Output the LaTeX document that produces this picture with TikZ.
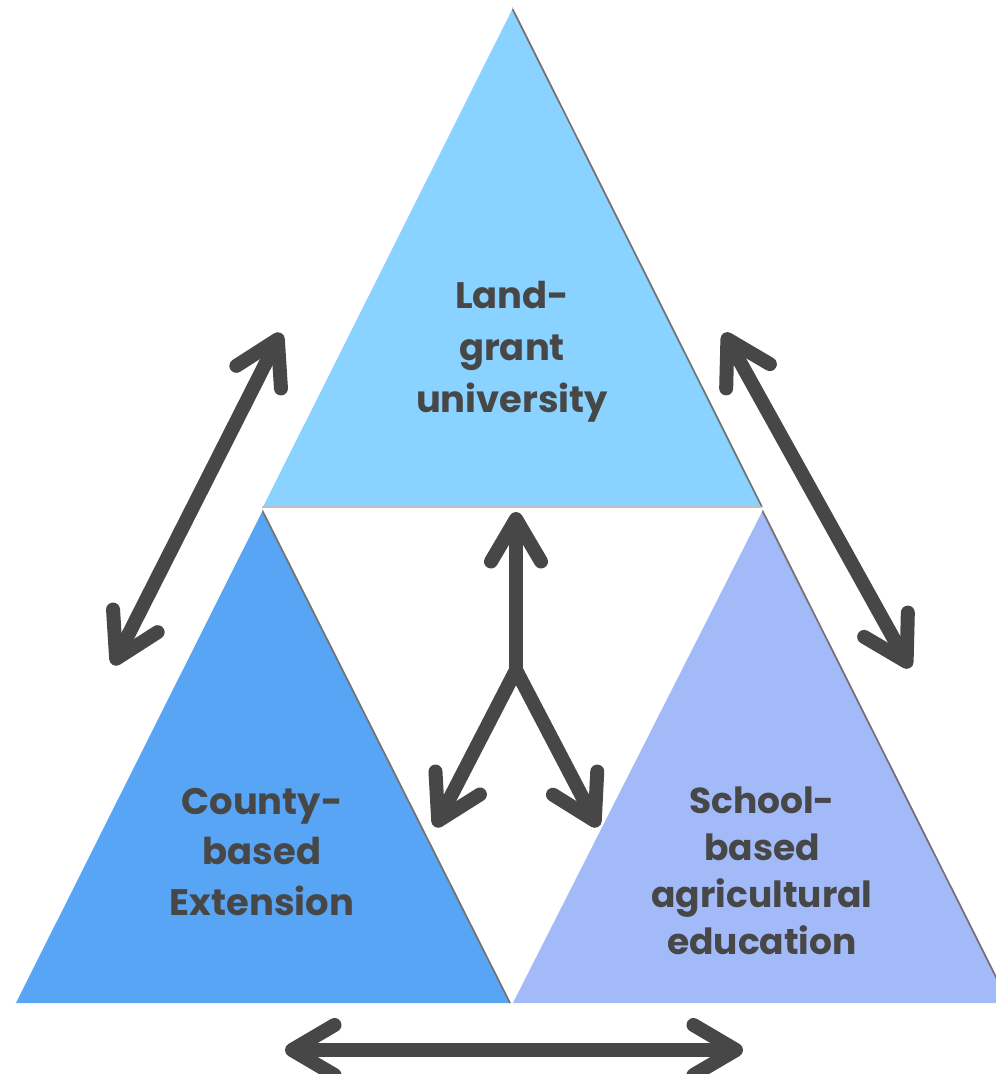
\documentclass[tikz,border=0pt]{standalone}
\usepackage{fontspec}
\setmainfont{Poppins}
\usetikzlibrary{arrows.meta}

\definecolor{topblue}{HTML}{8AD2FF}
\definecolor{leftblue}{HTML}{58A5F5}
\definecolor{rightblue}{HTML}{A3BAF8}
\definecolor{arrowgray}{HTML}{474747}

\begin{document}
\begin{tikzpicture}[x=0.02cm, y=-0.02cm,
    >={Straight Barb[round, length=0.85cm, width=1.0cm]},
    link/.style={draw=arrowgray, line width=0.28cm},
    shade edge/.style={draw=black!55, line width=1pt},
    light edge/.style={draw=white!70, line width=0.8pt},
    tag/.style={text=arrowgray, align=center, font=\bfseries\fontsize{21}{29.5}\selectfont}]
  \clip (0,0) rectangle (996,1074);
  \fill [white] (0,0) rectangle (996,1074);

  \coordinate (uTop) at (512,8);
  \coordinate (uL) at (262,507);
  \coordinate (uR) at (762,507);
  \coordinate (cTop) at (262,510);
  \coordinate (cL) at (15,1003);
  \coordinate (cR) at (510,1003);
  \coordinate (sTop) at (762,510);
  \coordinate (sL) at (512,1003);
  \coordinate (sR) at (1009,1003);

  \fill [topblue] (uTop) -- (uL) -- (uR) -- cycle;
  \fill [leftblue] (cTop) -- (cL) -- (cR) -- cycle;
  \fill [rightblue] (sTop) -- (sL) -- (sR) -- cycle;
  \draw [shade edge] (uTop) -- (uR);
  \draw [shade edge] (cTop) -- (cR);
  \draw [shade edge] (sTop) -- (sR);
  \draw [light edge] (uTop) -- (uL);
  \draw [light edge] (cTop) -- (cL);
  \draw [light edge] (sTop) -- (sL);
  \draw [draw=black!25, line width=1pt] (uL) -- (uR);

  \node (univ) at (512,352) [tag] {Land-\\grant\\university};
  \node (county) at (262,852) [tag, font=\bfseries\fontsize{21}{29}\selectfont] {County-\\based\\Extension};
  \node (school) at (762,871) [tag, font=\bfseries\fontsize{20.5}{26.8}\selectfont] {School-\\based\\agricultural\\education};

  \coordinate (lwA) at (113,665);
  \coordinate (lwB) at (281,333);
  \coordinate (rwA) at (724,333);
  \coordinate (rwB) at (910,668);
  \coordinate (btA) at (285,1050);
  \coordinate (btB) at (743,1050);
  \coordinate (stem) at (516,512);
  \coordinate (fork) at (516,670);
  \coordinate (forkL) at (435,827);
  \coordinate (forkR) at (598,827);

  \draw [link, <->] (lwA) -- (lwB);
  \draw [link, <->] (rwA) -- (rwB);
  \draw [link, <->] (btA) -- (btB);
  \draw [link, ->] (fork) -- (stem);
  \draw [link, <->, line join=miter] (forkL) -- (fork) -- (forkR);
\end{tikzpicture}
\end{document}
